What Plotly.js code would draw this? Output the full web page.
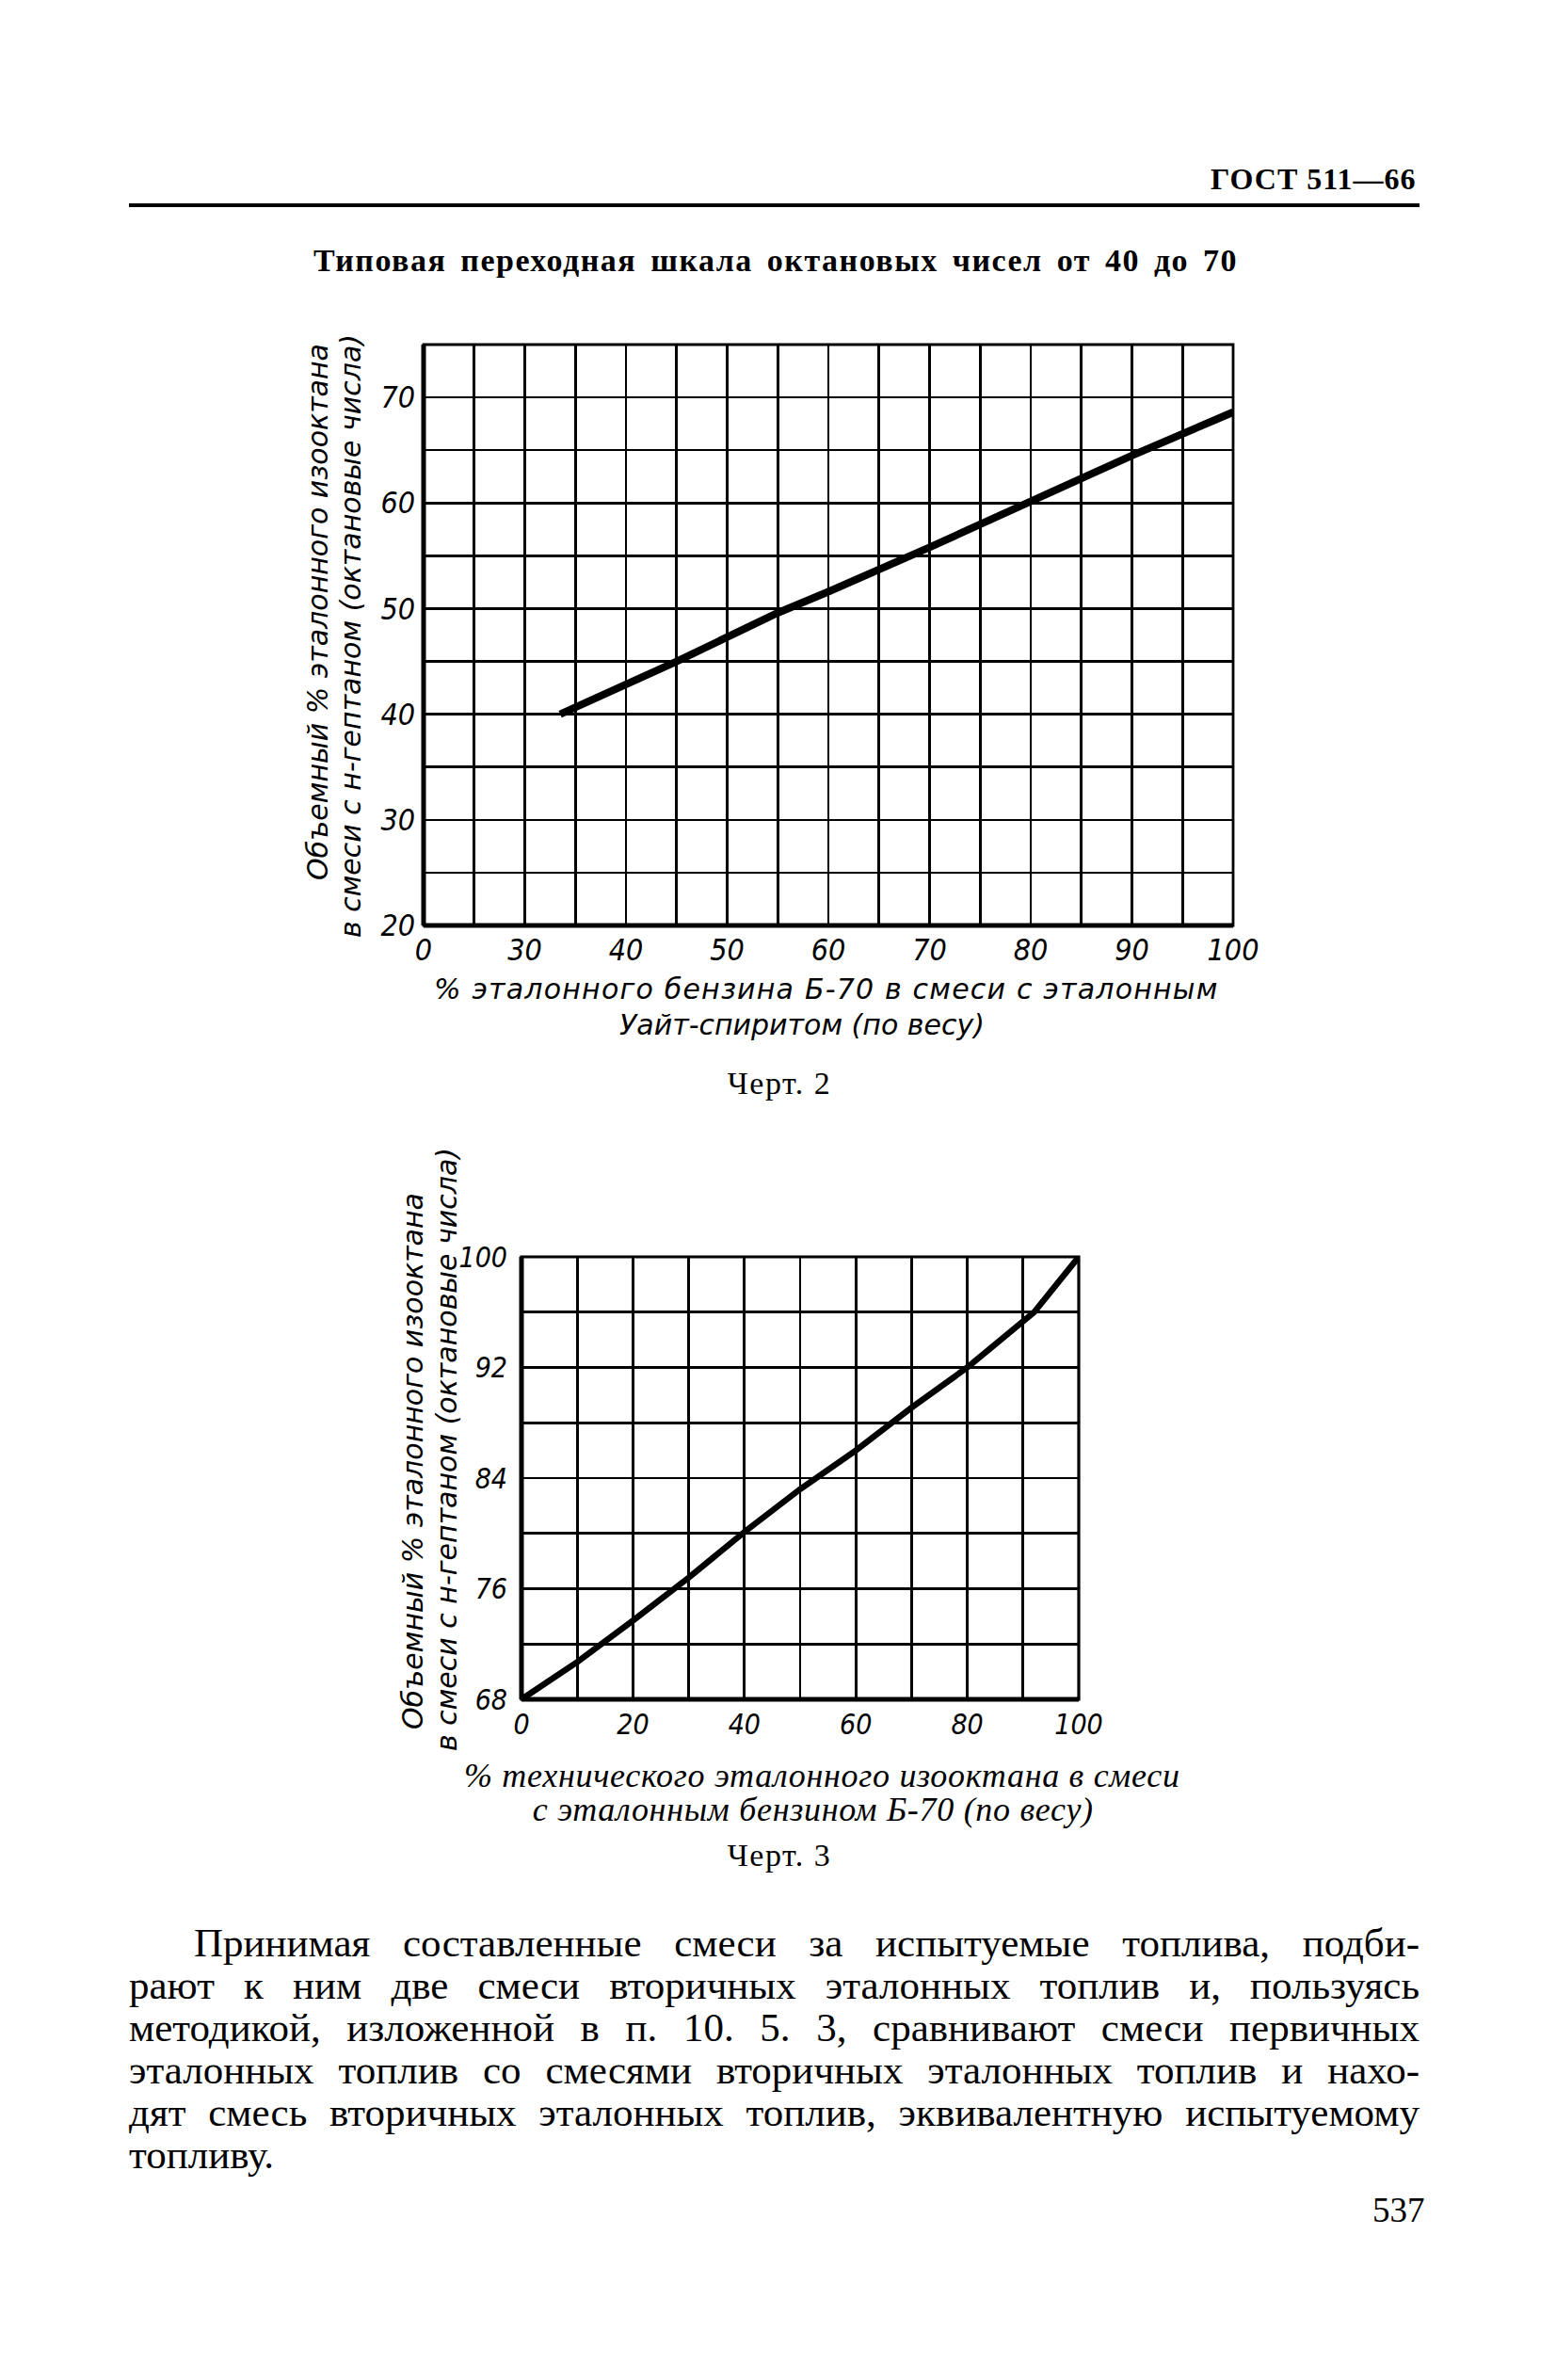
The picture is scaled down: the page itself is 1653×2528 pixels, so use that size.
<!DOCTYPE html>
<html>
<head>
<meta charset="utf-8">
<script src="https://cdn.plot.ly/plotly-3.0.1.min.js"></script>
<style>
html, body { margin: 0; padding: 0; background: #fff; width: 1653px; height: 2528px; overflow: hidden; }
#page { position: relative; width: 1653px; height: 2528px; }
#chart { position: absolute; left: 0; top: 0; width: 1653px; height: 2528px; }
#para { position: absolute; left: 137px; top: 2041px; width: 1371px;
        font-family: 'Liberation Serif', 'Times New Roman', serif; font-size: 43px;
        color: #000; letter-spacing: 0px; }
#para .ln { height: 45px; line-height: 45px; text-align: justify; text-align-last: justify; }
#para .ln.last { text-align: left; text-align-last: left; }
.gtitle { letter-spacing: 1.5px; word-spacing: 5px; }
.annotation[data-index="0"] .annotation-text { letter-spacing: 1px; }
.annotation[data-index="3"] .annotation-text { letter-spacing: 1.2px; }
.annotation[data-index="5"] .annotation-text,
.annotation[data-index="10"] .annotation-text { letter-spacing: 1.5px; }
.annotation[data-index="8"] .annotation-text,
.annotation[data-index="9"] .annotation-text { letter-spacing: 0.7px; }
</style>
</head>
<body>
<div id="page">
  <div id="chart"></div>
  <div id="para">
    <div class="ln" style="text-indent:69px">Принимая составленные смеси за испытуемые топлива, подби-</div>
    <div class="ln">рают к ним две смеси вторичных эталонных топлив и, пользуясь</div>
    <div class="ln">методикой, изложенной в п. 10. 5. 3, сравнивают смеси первичных</div>
    <div class="ln">эталонных топлив со смесями вторичных эталонных топлив и нахо-</div>
    <div class="ln">дят смесь вторичных эталонных топлив, эквивалентную испытуемому</div>
    <div class="ln last">топливу.</div>
  </div>
</div>
<script>
// ---------- data: Черт. 2 ----------
const blendB70 = [33.5, 45, 55, 60, 70, 80, 90, 100];          // % эталонного бензина Б-70
const octane1  = [40, 45, 49.6, 51.6, 55.8, 60.1, 64.5, 68.6];  // октановые числа
const xTickVals1 = [20, 30, 40, 50, 60, 70, 80, 90, 100];
const xTickText1 = ['0', '30', '40', '50', '60', '70', '80', '90', '100'];
const yTickVals1 = [20, 30, 40, 50, 60, 70];

// ---------- data: Черт. 3 ----------
const isooctane = [0, 10, 20, 30, 40, 50, 60, 70, 80, 90, 92, 100]; // % технического изооктана
const octane2   = [68, 70.7, 73.7, 76.8, 80.1, 83.2, 86.0, 89.1, 92.0, 95.3, 96.0, 100];
const xTickVals2 = [0, 20, 40, 60, 80, 100];
const yTickVals2 = [68, 76, 84, 92, 100];

// ---------- layout helpers (page pixels -> paper) ----------
const W = 1653, H = 2528;
const px = x => x / W;
const py = y => 1 - y / H;

const black = '#000';
const tickFont1 = { family: 'Liberation Sans Narrow, DejaVu Sans Condensed, sans-serif', size: 32, color: black, style: 'italic' };
const tickFont2 = { family: 'Liberation Sans Narrow, DejaVu Sans Condensed, sans-serif', size: 30, color: black, style: 'italic' };
const draftFont = { family: 'DejaVu Sans, sans-serif', size: 30, color: black, style: 'italic' };
const serifItal = { family: 'Liberation Serif, serif', size: 36, color: black, style: 'italic' };
const serifCap  = { family: 'Liberation Serif, serif', size: 34, color: black };

function gridAxis(extra) {
  return Object.assign({
    showgrid: true, gridcolor: black, gridwidth: 2.6,
    zeroline: false, showline: false, ticks: '',
    tickmode: 'array', fixedrange: true
  }, extra);
}

const traces = [
  { x: blendB70, y: octane1, xaxis: 'x', yaxis: 'y', type: 'scatter', mode: 'lines',
    line: { color: black, width: 8 }, hoverinfo: 'skip' },
  { x: isooctane, y: octane2, xaxis: 'x2', yaxis: 'y2', type: 'scatter', mode: 'lines',
    line: { color: black, width: 6.5 }, hoverinfo: 'skip' }
];

function frame(xr, yr, thin, thick) {
  return [
    { type: 'rect', xref: xr + ' domain', yref: yr + ' domain', x0: 0, x1: 1, y0: 0, y1: 1,
      line: { color: black, width: thin } },
    { type: 'line', xref: xr + ' domain', yref: yr + ' domain', x0: 0, x1: 0, y0: 0, y1: 1,
      line: { color: black, width: thick } },
    { type: 'line', xref: xr + ' domain', yref: yr + ' domain', x0: 0, x1: 1, y0: 0, y1: 0,
      line: { color: black, width: thick } }
  ];
}

const annotations = [
  // 0 header
  { text: 'ГОСТ 511—66', x: px(1507), y: py(190), xanchor: 'right', yanchor: 'middle', align: 'right',
    font: { family: 'Liberation Serif, serif', size: 32, color: black, weight: 'bold' } },
  // 1,2 y title chart 1
  { text: 'Объемный % эталонного изооктана', x: px(338), y: py(650), textangle: -90, font: draftFont },
  { text: 'в смеси с н-гептаном (октановые числа)', x: px(372), y: py(676), textangle: -90, font: draftFont },
  // 3,4 x title chart 1
  { text: '% эталонного бензина Б-70 в смеси с эталонным', x: px(878), y: py(1050), font: draftFont },
  { text: 'Уайт-спиритом (по весу)', x: px(852), y: py(1088), font: draftFont },
  // 5 caption
  { text: 'Черт. 2', x: px(828), y: py(1150), font: serifCap },
  // 6,7 y title chart 2
  { text: 'Объемный % эталонного изооктана', x: px(438), y: py(1552), textangle: -90, font: draftFont },
  { text: 'в смеси с н-гептаном (октановые числа)', x: px(474), y: py(1540), textangle: -90, font: draftFont },
  // 8,9 x title chart 2
  { text: '% технического эталонного изооктана в смеси', x: px(873), y: py(1886), font: serifItal },
  { text: 'с эталонным бензином Б-70 (по весу)', x: px(864), y: py(1922), font: serifItal },
  // 10 caption
  { text: 'Черт. 3', x: px(828), y: py(1970), font: serifCap },
  // 11 page number
  { text: '537', x: px(1516), y: py(2347), xanchor: 'right', align: 'right',
    font: { family: 'Liberation Serif, serif', size: 37, color: black } }
].map(a => Object.assign({ xref: 'paper', yref: 'paper', showarrow: false,
                           xanchor: 'center', yanchor: 'middle' }, a));

const layout = {
  width: W, height: H,
  margin: { l: 0, r: 0, t: 0, b: 0, pad: 0 },
  paper_bgcolor: '#fff', plot_bgcolor: '#fff',
  showlegend: false, hovermode: false,
  title: {
    text: 'Типовая переходная шкала октановых чисел от 40 до 70',
    x: px(824), xanchor: 'center', xref: 'paper',
    y: 1 - 276 / H, yanchor: 'middle', yref: 'container',
    font: { family: 'Liberation Serif, serif', size: 34, color: black, weight: 'bold' }
  },
  xaxis: gridAxis({
    domain: [px(450), px(1310)], anchor: 'y', range: [20, 100],
    tickvals: xTickVals1, ticktext: xTickText1, tickfont: tickFont1, ticklabelstandoff: 4,
    minor: { tick0: 20, dtick: 5, showgrid: true, gridcolor: black, gridwidth: 2.6, ticks: '' }
  }),
  yaxis: gridAxis({
    domain: [py(983), py(366)], anchor: 'x', range: [20, 75],
    tickvals: yTickVals1, tickfont: tickFont1, ticklabelstandoff: 8,
    minor: { tick0: 20, dtick: 5, showgrid: true, gridcolor: black, gridwidth: 2.6, ticks: '' }
  }),
  xaxis2: gridAxis({
    domain: [px(554), px(1146)], anchor: 'y2', range: [0, 100],
    tickvals: xTickVals2, tickfont: tickFont2, ticklabelstandoff: 6,
    minor: { tick0: 0, dtick: 10, showgrid: true, gridcolor: black, gridwidth: 2.8, ticks: '' }
  }),
  yaxis2: gridAxis({
    domain: [py(1805), py(1335)], anchor: 'x2', range: [68, 100],
    tickvals: yTickVals2, tickfont: tickFont2, ticklabelstandoff: 14,
    minor: { tick0: 68, dtick: 4, showgrid: true, gridcolor: black, gridwidth: 2.8, ticks: '' }
  }),
  shapes: [
    { type: 'line', xref: 'paper', yref: 'paper', x0: px(137), x1: px(1508), y0: py(218), y1: py(218),
      line: { color: black, width: 4 } }
  ].concat(frame('x', 'y', 2.8, 5)).concat(frame('x2', 'y2', 3.2, 5)),
  annotations: annotations
};

Plotly.newPlot('chart', traces, layout, { staticPlot: true, displayModeBar: false });
</script>
</body>
</html>
